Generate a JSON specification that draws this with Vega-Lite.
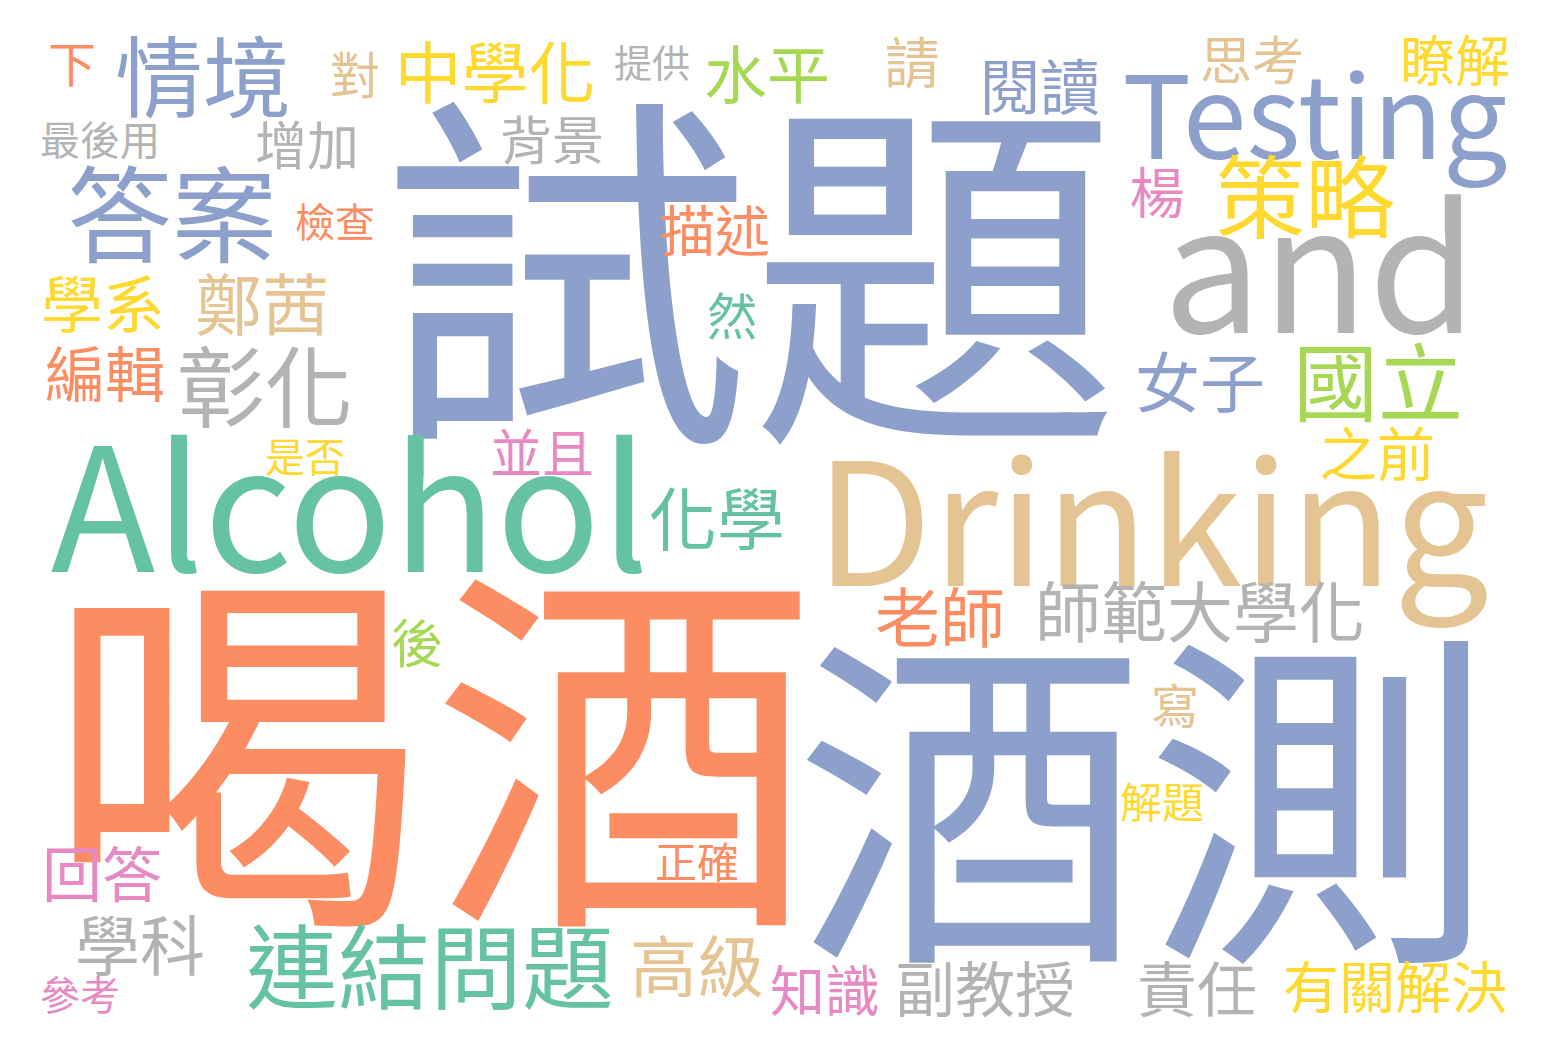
{
  "$schema": "https://vega.github.io/schema/vega-lite/v6.json",
  "width": 1548,
  "height": 1052,
  "autosize": {"type": "fit", "contains": "padding"},
  "padding": 0,
  "background": "white",
  "config": {"view": {"stroke": null}},
  "data": {"values": [
    {"w": "試題", "x": 750, "y": 303, "s": 370, "c": "blue"},
    {"w": "喝酒", "x": 432, "y": 780, "s": 385, "c": "orange"},
    {"w": "酒測", "x": 1145, "y": 830, "s": 350, "c": "blue"},
    {"w": "Alcohol", "x": 350, "y": 520, "s": 172, "c": "green"},
    {"w": "Drinking", "x": 1152, "y": 535, "s": 170, "c": "tan"},
    {"w": "and", "x": 1320, "y": 280, "s": 175, "c": "gray"},
    {"w": "Testing", "x": 1315, "y": 124, "s": 115, "c": "blue"},
    {"w": "情境", "x": 203, "y": 84, "s": 88, "c": "blue"},
    {"w": "答案", "x": 172, "y": 222, "s": 105, "c": "blue"},
    {"w": "中學化", "x": 495, "y": 78, "s": 67, "c": "yellow"},
    {"w": "對", "x": 355, "y": 79, "s": 50, "c": "tan"},
    {"w": "下", "x": 72, "y": 68, "s": 48, "c": "orange"},
    {"w": "最後用", "x": 100, "y": 143, "s": 40, "c": "gray"},
    {"w": "增加", "x": 307, "y": 149, "s": 52, "c": "gray"},
    {"w": "背景", "x": 552, "y": 144, "s": 52, "c": "gray"},
    {"w": "提供", "x": 652, "y": 66, "s": 38, "c": "gray"},
    {"w": "水平", "x": 767, "y": 79, "s": 63, "c": "lime"},
    {"w": "請", "x": 912, "y": 66, "s": 55, "c": "tan"},
    {"w": "閱讀", "x": 1040, "y": 92, "s": 60, "c": "blue"},
    {"w": "思考", "x": 1252, "y": 64, "s": 52, "c": "tan"},
    {"w": "瞭解", "x": 1455, "y": 64, "s": 55, "c": "yellow"},
    {"w": "策略", "x": 1305, "y": 204, "s": 90, "c": "yellow"},
    {"w": "楊", "x": 1157, "y": 196, "s": 55, "c": "pink"},
    {"w": "檢查", "x": 335, "y": 225, "s": 40, "c": "orange"},
    {"w": "描述", "x": 715, "y": 234, "s": 55, "c": "orange"},
    {"w": "學系", "x": 103, "y": 309, "s": 62, "c": "yellow"},
    {"w": "鄭茜", "x": 262, "y": 310, "s": 67, "c": "tan"},
    {"w": "然", "x": 732, "y": 320, "s": 50, "c": "green"},
    {"w": "編輯", "x": 105, "y": 379, "s": 60, "c": "orange"},
    {"w": "彰化", "x": 265, "y": 394, "s": 88, "c": "gray"},
    {"w": "女子", "x": 1200, "y": 387, "s": 65, "c": "blue"},
    {"w": "國立", "x": 1378, "y": 389, "s": 85, "c": "lime"},
    {"w": "是否", "x": 305, "y": 460, "s": 40, "c": "yellow"},
    {"w": "並且", "x": 542, "y": 457, "s": 52, "c": "pink"},
    {"w": "之前", "x": 1377, "y": 459, "s": 58, "c": "yellow"},
    {"w": "化學", "x": 717, "y": 525, "s": 68, "c": "green"},
    {"w": "老師", "x": 940, "y": 622, "s": 65, "c": "orange"},
    {"w": "師範大學化", "x": 1200, "y": 617, "s": 66, "c": "gray"},
    {"w": "後", "x": 417, "y": 647, "s": 52, "c": "lime"},
    {"w": "寫", "x": 1175, "y": 710, "s": 48, "c": "tan"},
    {"w": "解題", "x": 1162, "y": 805, "s": 42, "c": "yellow"},
    {"w": "正確", "x": 697, "y": 865, "s": 42, "c": "orange"},
    {"w": "回答", "x": 102, "y": 879, "s": 60, "c": "pink"},
    {"w": "學科", "x": 140, "y": 950, "s": 65, "c": "gray"},
    {"w": "連結問題", "x": 430, "y": 974, "s": 92, "c": "green"},
    {"w": "高級", "x": 697, "y": 972, "s": 67, "c": "tan"},
    {"w": "知識", "x": 825, "y": 994, "s": 55, "c": "pink"},
    {"w": "副教授", "x": 985, "y": 994, "s": 60, "c": "gray"},
    {"w": "責任", "x": 1197, "y": 994, "s": 60, "c": "gray"},
    {"w": "有關解決", "x": 1395, "y": 991, "s": 56, "c": "yellow"},
    {"w": "參考", "x": 80, "y": 998, "s": 40, "c": "pink"}
  ]},
  "mark": {"type": "text", "align": "center", "baseline": "middle", "font": "Noto Sans CJK TC"},
  "encoding": {
    "x": {"field": "x", "type": "quantitative", "scale": {"domain": [0, 1548]}, "axis": null},
    "y": {"field": "y", "type": "quantitative", "scale": {"domain": [1052, 0]}, "axis": null},
    "size": {"field": "s", "type": "quantitative", "scale": null, "legend": null},
    "order": {"field": "s", "sort": "descending"},
    "text": {"field": "w"},
    "color": {
      "field": "c", "type": "nominal", "legend": null,
      "scale": {
        "domain": ["orange", "blue", "green", "pink", "lime", "yellow", "tan", "gray"],
        "range": ["#fc8d62", "#8da0cb", "#66c2a5", "#e78ac3", "#a6d854", "#ffd92f", "#e5c494", "#b3b3b3"]
      }
    }
  }
}
